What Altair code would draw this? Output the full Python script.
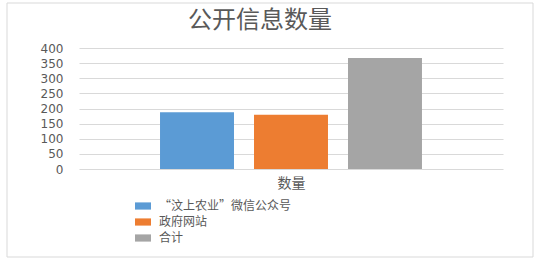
import altair as alt
import pandas as pd

series = ["“汶上农业”微信公众号", "政府网站", "合计"]
values = [188, 179, 367]
colors = ["#5b9bd5", "#ed7d31", "#a5a5a5"]
category = "数量"
chart_title = "公开信息数量"
y_ticks = [0, 50, 100, 150, 200, 250, 300, 350, 400]

df = pd.DataFrame({"series": series, "value": values, "cat": [category] * 3})

FONT = "Noto Sans CJK SC"
TXT = "#595959"

bars = alt.Chart(df).mark_bar().encode(
    x=alt.X("series:N", sort=series,
            scale=alt.Scale(paddingInner=0.213, paddingOuter=0.862),
            axis=alt.Axis(title=category, labels=False, ticks=False, domain=False,
                          titleFont=FONT, titleFontSize=14, titleColor=TXT,
                          titleFontWeight="normal", titlePadding=7)),
    y=alt.Y("value:Q", scale=alt.Scale(domain=[0, 400]),
            axis=alt.Axis(title=None, values=y_ticks, ticks=False, domain=False,
                          labelPadding=16, labelFontSize=12, labelColor=TXT,
                          labelFont="DejaVu Sans", gridColor="#d9d9d9")),
    color=alt.Color("series:N", sort=series,
                    scale=alt.Scale(domain=series, range=colors),
                    legend=alt.Legend(title=None, orient="none", legendX=56, legendY=150,
                                      symbolType="M-1,-0.45H1V0.45H-1Z", symbolSize=256,
                                      symbolStrokeWidth=0, labelFont=FONT, labelFontSize=12,
                                      labelColor=TXT, rowPadding=2, labelOffset=8)),
)

border = alt.Chart(alt.Data(values=[{}])).mark_rect(
    fill=None, stroke="#d9d9d9", strokeWidth=1
).encode(
    x=alt.value(-72), x2=alt.value(454), y=alt.value(-45), y2=alt.value(209)
)

title = alt.Chart(alt.Data(values=[{"t": chart_title}])).mark_text(
    font=FONT, fontSize=24, color=TXT, align="center", baseline="middle"
).encode(
    text="t:N", x=alt.value(181), y=alt.value(-27)
)

chart = alt.layer(border, title, bars).properties(
    width=424, height=121,
    padding={"left": 79, "top": 48, "right": 38, "bottom": 93},
    autosize=alt.AutoSizeParams(type="none"),
).configure_view(stroke=None)

chart.save("out.html", embed_options={"renderer": "svg", "actions": False})
